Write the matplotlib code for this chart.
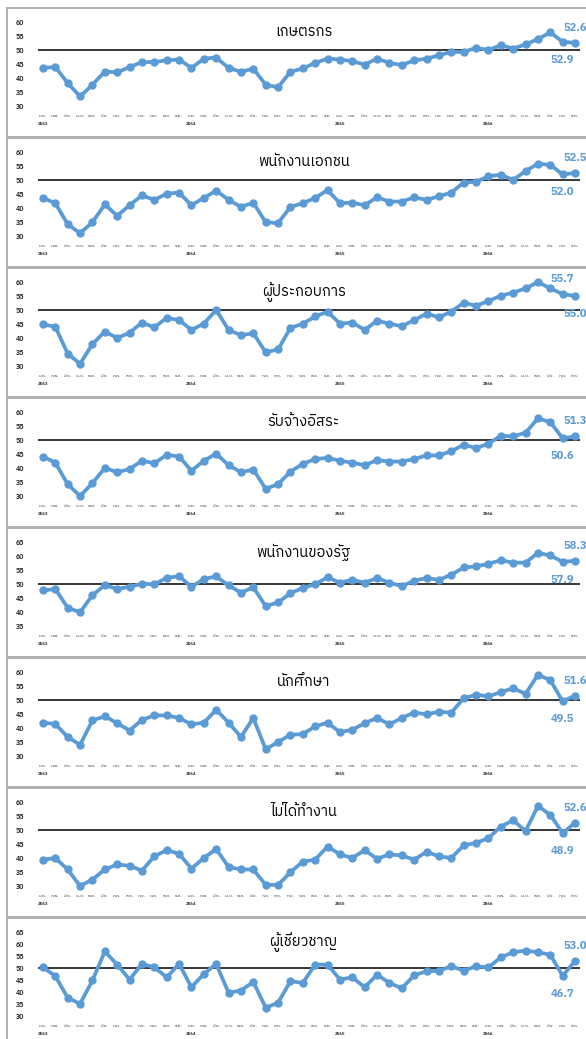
import matplotlib
matplotlib.use("Agg")
import matplotlib.pyplot as plt
from matplotlib import font_manager
from matplotlib.ft2font import FT2Font
from matplotlib.patches import Rectangle

# x axis: Jan 2563 .. Aug 2566
months = ["ม.ค.", "ก.พ.", "มี.ค.", "เม.ย.", "พ.ค.", "มิ.ย.",
          "ก.ค.", "ส.ค.", "ก.ย.", "ต.ค.", "พ.ย.", "ธ.ค."]
years = ["2563", "2564", "2565", "2566"]
month_labels = (months * 4)[:44]

titles = ["เกษตรกร", "พนักงานเอกชน", "ผู้ประกอบการ", "รับจ้างอิสระ",
          "พนักงานของรัฐ", "นักศึกษา", "ไม่ได้ทำงาน", "ผู้เชี่ยวชาญ"]

farmer = [43.6, 43.9, 38.2, 33.4, 37.6, 42.3, 42.0, 43.9, 45.7, 45.7, 46.3, 46.6,
          43.6, 46.9, 47.3, 43.6, 42.2, 43.3, 37.6, 36.7, 42.2, 43.4, 45.4, 46.9,
          46.6, 46.0, 44.8, 46.9, 45.4, 44.6, 46.3, 46.9, 48.1, 49.3, 49.3, 50.8,
          50.0, 51.7, 50.5, 52.0, 53.9, 56.3, 52.9, 52.6]
private_emp = [43.6, 41.7, 34.2, 31.0, 34.9, 41.3, 37.2, 41.0, 44.5, 42.9, 45.1, 45.5,
               41.0, 43.6, 46.2, 42.9, 40.4, 41.9, 34.9, 34.6, 40.4, 41.7, 43.6, 46.4,
               41.7, 41.9, 41.0, 43.8, 42.3, 42.3, 43.8, 42.9, 44.2, 45.5, 49.1, 49.4,
               51.3, 51.9, 50.0, 53.2, 55.8, 55.4, 52.0, 52.5]
business = [44.9, 44.0, 34.4, 30.8, 37.8, 42.3, 40.0, 41.9, 45.5, 43.8, 47.2, 46.4,
            42.9, 45.1, 50.0, 42.9, 41.0, 41.7, 34.9, 35.9, 43.6, 45.1, 47.7, 49.4,
            45.1, 45.5, 42.9, 46.2, 45.1, 44.2, 46.4, 48.7, 47.4, 49.4, 52.6, 51.5,
            53.2, 55.1, 56.2, 57.7, 60.0, 57.7, 55.7, 55.0]
freelance = [44.1, 41.9, 34.2, 30.0, 34.6, 40.0, 38.5, 39.6, 42.6, 41.7, 44.7, 44.1,
             39.0, 42.6, 45.1, 41.0, 38.5, 39.4, 32.6, 34.2, 38.7, 41.5, 43.2, 43.6,
             42.6, 41.9, 41.0, 42.8, 42.3, 42.3, 43.2, 44.5, 44.5, 46.0, 48.3, 47.1,
             48.7, 51.5, 51.3, 52.6, 57.7, 56.4, 50.6, 51.3]
government = [47.7, 48.2, 41.5, 39.9, 46.0, 49.6, 48.2, 49.0, 50.1, 49.9, 52.2, 52.8,
              49.0, 51.8, 52.7, 49.5, 46.9, 48.8, 42.1, 43.4, 46.7, 48.6, 49.9, 52.4,
              50.5, 51.5, 50.5, 52.1, 50.5, 49.2, 51.2, 52.1, 51.5, 53.3, 55.9, 56.3,
              57.2, 58.5, 57.6, 57.6, 61.1, 60.2, 57.9, 58.3]
student = [41.9, 41.4, 36.8, 34.0, 42.7, 44.2, 41.7, 39.1, 42.9, 44.5, 44.5, 43.6,
           41.3, 41.9, 46.5, 41.9, 36.8, 43.6, 32.4, 35.0, 37.6, 37.8, 40.6, 41.9,
           38.5, 39.4, 41.7, 43.6, 41.3, 43.6, 45.5, 44.9, 45.8, 45.5, 50.6, 51.9,
           51.3, 52.8, 54.2, 52.2, 59.0, 57.1, 49.5, 51.6]
unemployed = [39.4, 40.0, 35.9, 30.0, 32.3, 35.9, 37.7, 37.2, 35.5, 40.6, 42.8, 41.5,
              36.2, 40.0, 43.2, 36.8, 35.9, 35.9, 30.4, 30.4, 34.9, 38.7, 39.4, 44.1,
              41.3, 40.0, 42.8, 39.7, 41.3, 40.9, 39.4, 42.2, 40.6, 40.0, 44.5, 45.4,
              47.1, 51.2, 53.5, 49.6, 58.6, 55.4, 48.9, 52.6]
expert = [50.3, 46.6, 37.6, 35.1, 44.8, 56.9, 51.4, 45.2, 51.7, 50.3, 46.1, 51.7,
          42.0, 47.5, 51.7, 39.7, 40.6, 44.2, 33.5, 35.5, 44.5, 43.8, 51.4, 51.4,
          45.2, 46.1, 42.0, 47.2, 43.8, 41.5, 47.0, 48.6, 48.9, 50.7, 48.9, 50.7,
          50.3, 54.4, 56.6, 57.2, 56.6, 55.5, 46.7, 53.0]

series = [farmer, private_emp, business, freelance, government, student, unemployed, expert]
y_ranges = [(30, 60), (30, 60), (30, 60), (30, 60), (35, 65), (30, 60), (30, 60), (30, 65)]
# where the two last-point labels sit (second to last, last)
label_sides = [("below", "above"), ("below", "above"), ("above", "below"), ("below", "above"),
               ("below", "above"), ("below", "above"), ("below", "above"), ("below", "above")]

BLUE = "#5B9BD5"


def find_thai_font():
    found = []
    for f in font_manager.fontManager.ttflist:
        try:
            cmap = FT2Font(f.fname).get_charmap()
        except Exception:
            continue
        if 0x0E01 in cmap and 0x0E35 in cmap:
            found.append(f.name)
    if not found:
        return "DejaVu Sans"
    found.sort(key=lambda n: ("Sans" not in n, n))
    return found[0]


thai = find_thai_font()
plt.rcParams["font.family"] = [thai, "DejaVu Sans"]

W, H = 586, 1039
fig = plt.figure(figsize=(W / 100, H / 100), dpi=100)
x = list(range(len(month_labels)))

for k, vals in enumerate(series):
    top = 8 + 130 * k
    fig.add_artist(Rectangle((7 / W, 1 - (top + 129) / H), 590 / W, 129 / H,
                             transform=fig.transFigure, fill=False,
                             edgecolor="#B0B0B0", lw=1.4))
    ax = fig.add_axes([38 / W, 1 - (top + 98) / H, 542 / W, 84 / H])
    ax.axhline(50, color="black", lw=1.1, zorder=1)
    ax.plot(x, vals, "-o", color=BLUE, lw=2.7, ms=5.0, zorder=2, clip_on=False,
            solid_joinstyle="round", solid_capstyle="round")

    lo, hi = y_ranges[k]
    ax.set_xlim(-0.4, 43.4)
    ax.set_ylim(lo, hi)
    ax.set_yticks(range(lo, hi + 1, 5))
    ax.set_xticks(x)
    ax.set_xticklabels(month_labels)
    ax.tick_params(axis="y", length=0, pad=10, labelsize=5, labelcolor="#303030")
    ax.tick_params(axis="x", length=0, pad=6, labelsize=3.2, labelcolor="#303030")
    for lbl in ax.get_yticklabels():
        lbl.set_fontweight("bold")
    for s in ax.spines.values():
        s.set_visible(False)
    ax.patch.set_alpha(0)

    for j, yr in enumerate(years):
        ax.annotate(yr, xy=(12 * j, 0), xycoords=ax.get_xaxis_transform(),
                    xytext=(0, -18), textcoords="offset pixels",
                    ha="center", va="center", fontsize=3.2, fontweight="bold",
                    color="#303030")

    ax.text(0.49, 0.88, titles[k], transform=ax.transAxes, ha="center",
            va="center", fontsize=10.5, color="black")

    for i, side in zip((len(vals) - 2, len(vals) - 1), label_sides[k]):
        dy = 15 if side == "above" else -18
        ax.annotate(f"{vals[i]:.1f}", xy=(i, vals[i]), xytext=(0, dy),
                    textcoords="offset pixels", ha="center", va="center",
                    fontsize=8, fontweight="bold", color=BLUE,
                    annotation_clip=False)

fig.savefig("out.png", dpi=100)
